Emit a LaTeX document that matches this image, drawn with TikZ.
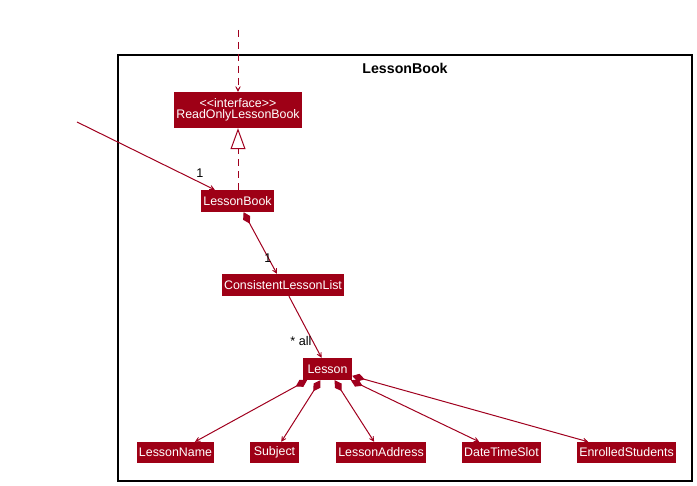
\documentclass[tikz,border=0pt]{standalone}
\usepackage{fontspec}
\setmainfont{Liberation Sans}
\usetikzlibrary{arrows.meta}
\definecolor{boxred}{RGB}{158,0,22}
\definecolor{linered}{RGB}{160,0,30}
\begin{document}
\begin{tikzpicture}[x=1pt,y=-1pt,
  cls/.style={fill=boxred, text=white, inner sep=0pt, font=\fontsize{12.4}{13}\selectfont, align=center},
  link/.style={draw=linered, line width=1pt},
  headarrow/.style={-{Stealth[length=9pt,width=9pt,inset=6.5pt]}},
  comp/.style={{Diamond[length=13pt,width=8pt]}-{Stealth[length=9pt,width=9pt,inset=6.5pt]}},
  real/.style={-{Triangle[open,length=21pt,width=15pt,fill=white]}},
  lbl/.style={font=\fontsize{12.6}{13}\selectfont, text=black, inner sep=0pt}]
\useasboundingbox (0,0) rectangle (697,486);

% package frame
\draw[line width=1.3pt] (118,55) rectangle (692,481);
\node[font=\bfseries\fontsize{14.2}{15}\selectfont] (pkg) at (405,68) {LessonBook};

% classes
\node[cls, minimum width=128pt, minimum height=36pt] (ro) at (238,110)
  {<{}<interface>{}>\\[-2pt] ReadOnlyLessonBook};
\node[cls, minimum width=73pt, minimum height=22pt] (lb) at (237.5,201) {LessonBook};
\node[cls, minimum width=122pt, minimum height=22pt] (cll) at (283,285) {ConsistentLessonList};
\node[cls, minimum width=49pt, minimum height=22pt] (lesson) at (327.5,369) {Lesson};
\node[cls, minimum width=77pt, minimum height=21pt] (lname) at (175.5,452.5) {LessonName};
\node[cls, minimum width=49pt, minimum height=21pt] (subj) at (274.5,452.5) {Subject};
\node[cls, minimum width=90pt, minimum height=21pt] (laddr) at (381,452.5) {LessonAddress};
\node[cls, minimum width=79pt, minimum height=21pt] (dts) at (501.5,452.5) {DateTimeSlot};
\node[cls, minimum width=99pt, minimum height=21pt] (enr) at (626.5,452.5) {EnrolledStudents};

% free ends of the incoming connectors
\coordinate (topin) at (238,30);
\coordinate (leftin) at (77,122);

% connectors
\draw[link, headarrow, dash pattern=on 7pt off 5pt] (topin) -- (ro.north);
\draw[link, real, dash pattern=on 7pt off 5pt] (lb.north -| ro.south) -- (ro.south);
\draw[link, headarrow] (leftin) -- (lb);
\draw[link, comp] (lb) -- (cll);
\draw[link, headarrow] (cll) -- (lesson);
\draw[link, comp] (lesson) -- (lname);
\draw[link, comp] (lesson) -- (subj);
\draw[link, comp] (lesson) -- (laddr);
\draw[link, comp] (lesson) -- (dts);
\draw[link, comp] (lesson) -- (enr);

% multiplicities
\node[lbl] (m1) at (200,173) {1};
\node[lbl] (m2) at (268,258) {1};
\node[lbl] (m3) at (301,341) {* all};
\end{tikzpicture}
\end{document}
